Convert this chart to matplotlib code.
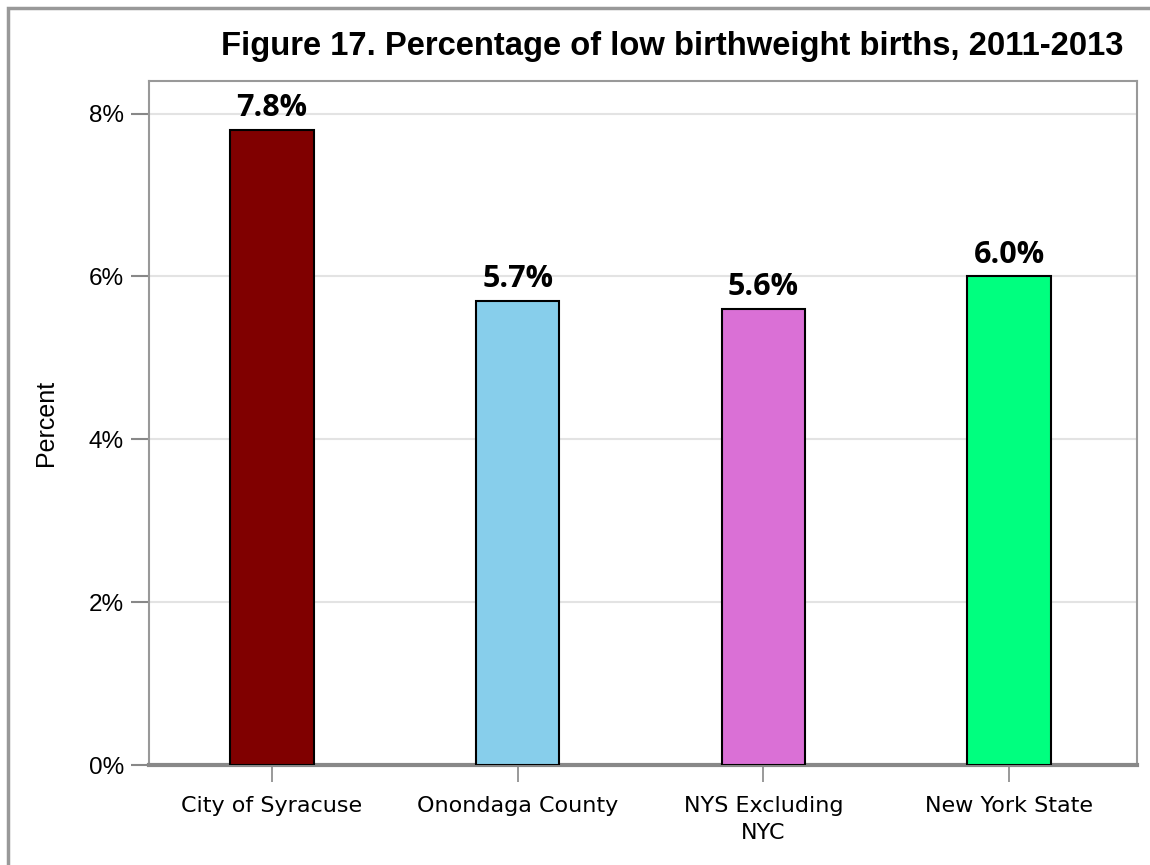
import matplotlib
matplotlib.use("Agg")
import matplotlib.pyplot as plt
from matplotlib.patches import Rectangle

categories = ["City of Syracuse", "Onondaga County", "NYS Excluding\nNYC", "New York State"]
values = [7.8, 5.7, 5.6, 6.0]
colors = ["#800000", "#87CEEB", "#DA70D6", "#00FF7F"]
yticks = [0, 2, 4, 6, 8]
title = "Figure 17. Percentage of low birthweight births, 2011-2013"

fig = plt.figure(figsize=(11.5, 8.65), dpi=100)
ax = fig.add_axes([149 / 1150, 1 - 765 / 865, (1137 - 149) / 1150, (765 - 81) / 865])

# gray frame around the figure (right and bottom run off the canvas)
fig.patches.append(Rectangle((8 / 1150, -0.1), 1.2, 1 - 8 / 865 + 0.1,
                             transform=fig.transFigure, fill=False,
                             edgecolor="#999999", linewidth=2.5))

x = list(range(len(categories)))
ax.bar(x, values, width=0.34, color=colors, edgecolor="black", linewidth=1.5, zorder=3)

for xi, v in zip(x, values):
    ax.text(xi, v + 0.08, f"{v:.1f}%", ha="center", va="bottom",
            fontsize=22, fontweight="bold", family="Open Sans", zorder=4)

ax.set_xlim(-0.5, 3.52)
ax.set_ylim(0, 8.4)
ax.set_yticks(yticks)
ax.set_yticklabels([f"{t}%" for t in yticks], family="Liberation Sans", fontsize=17.5)
ax.set_xticks(x)
ax.set_xticklabels(categories, family="DejaVu Sans", fontsize=16, linespacing=1.45)
ax.yaxis.grid(True, color="#e3e3e3", linewidth=1.5, zorder=0)
ax.set_axisbelow(True)

for s in ["left", "top", "right"]:
    ax.spines[s].set_color("#999999")
    ax.spines[s].set_linewidth(1.5)
ax.spines["bottom"].set_color("#888888")
ax.spines["bottom"].set_linewidth(3)
ax.tick_params(axis="y", length=13, width=1.5, color="#888888", pad=5)
ax.tick_params(axis="x", length=12, width=1.2, color="#888888", pad=10)

ax.set_ylabel("Percent", family="Liberation Sans", fontsize=18, labelpad=22)

fig.text(672 / 1150, 1 - 46 / 865, title, ha="center", va="center",
         fontsize=23.6, fontweight="bold", family="Liberation Sans")

fig.savefig("out.png", dpi=100)
